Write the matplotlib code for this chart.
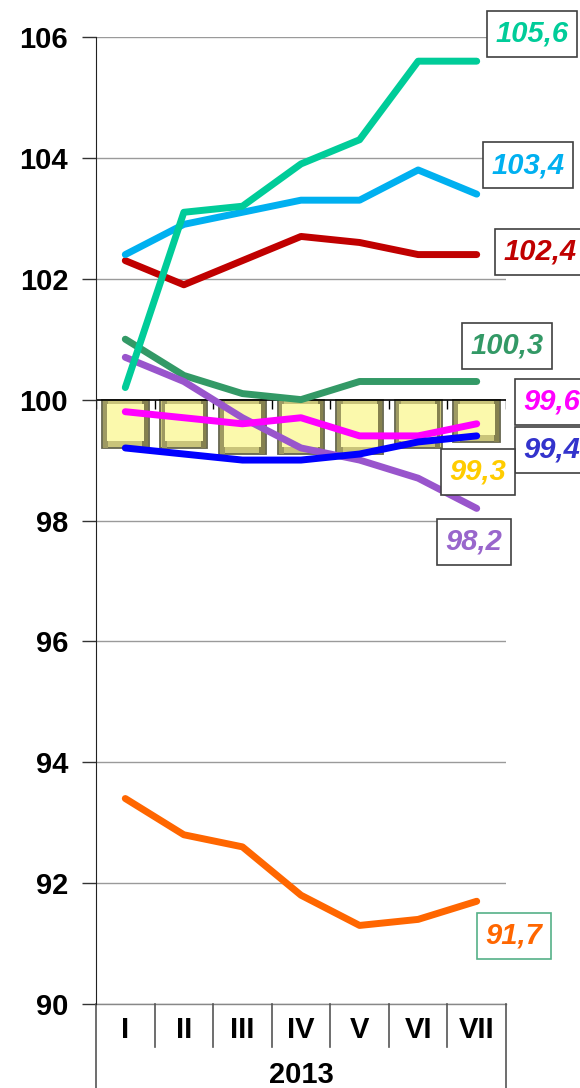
import numpy as np
import matplotlib.pyplot as plt
from matplotlib.transforms import blended_transform_factory

################################## DATA ##################################

months = ['I', 'II', 'III', 'IV', 'V', 'VI', 'VII']
year = '2013'

bar_vals = [99.2, 99.2, 99.1, 99.1, 99.1, 99.2, 99.3]

teal = [100.2, 103.1, 103.2, 103.9, 104.3, 105.6, 105.6]
light_blue = [102.4, 102.9, 103.1, 103.3, 103.3, 103.8, 103.4]
dark_red = [102.3, 101.9, 102.3, 102.7, 102.6, 102.4, 102.4]
sea_green = [101.0, 100.4, 100.1, 100.0, 100.3, 100.3, 100.3]
purple = [100.7, 100.3, 99.7, 99.2, 99.0, 98.7, 98.2]
magenta = [99.8, 99.7, 99.6, 99.7, 99.4, 99.4, 99.6]
blue = [99.2, 99.1, 99.0, 99.0, 99.1, 99.3, 99.4]
orange = [93.4, 92.8, 92.6, 91.8, 91.3, 91.4, 91.7]

y_ticks = [90, 92, 94, 96, 98, 100, 102, 104, 106]

################################## SETUP ##################################

plt.rcParams['font.family'] = ['Liberation Sans', 'DejaVu Sans']
FS = 21

W, H = 580, 1088
fig = plt.figure(figsize=(W / 100, H / 100), dpi=100)

# axes box in pixels: x 96..506, y 37..1004
ax_l, ax_r, ax_t, ax_b = 96, 506, 37, 1004
ax = fig.add_axes([ax_l / W, 1 - ax_b / H, (ax_r - ax_l) / W, (ax_b - ax_t) / H])

x = np.arange(len(months))
ax.set_xlim(-0.5, len(months) - 0.5)
ax.set_ylim(90, 106)

# px -> data helpers (for the label boxes outside the plot)
def px2x(px):
    return (px - ax_l) / (ax_r - ax_l) * len(months) - 0.5

def px2y(py):
    return 106 - (py - ax_t) / (ax_b - ax_t) * 16

################################## BARS ##################################

# bevelled yellow bars hanging down from 100
vals = np.array(bar_vals)
ax.bar(x, vals - 100, bottom=100, width=0.8, color='#c9c47a',
       edgecolor='#66664f', linewidth=1.3, zorder=2)
ax.bar(x - 0.335, vals - 100, bottom=100, width=0.09, color='#9e9a62',
       edgecolor='none', zorder=2.05)
ax.bar(x + 0.335, vals - 100, bottom=100, width=0.09, color='#85814f',
       edgecolor='none', zorder=2.05)
ax.bar(x, vals - 100 + 0.2, bottom=99.92, width=0.64, color='#fbf9ac',
       edgecolor='none', zorder=2.1)

################################## LINES ##################################

series = [
    (orange, '#FF6600'),
    (sea_green, '#339966'),
    (dark_red, '#C00000'),
    (light_blue, '#00B0F0'),
    (purple, '#9955CC'),
    (magenta, '#FF00FF'),
    (blue, '#0000FF'),
    (teal, '#00CC99'),
]
for vals_s, col in series:
    ax.plot(x, vals_s, color=col, lw=5, solid_capstyle='round',
            solid_joinstyle='round', zorder=3)

################################## LABELS ##################################

labels = [
    ('105,6', '#00CC99', '#404040', 532, 42),
    ('103,4', '#00B0F0', '#404040', 528, 173),
    ('102,4', '#C00000', '#404040', 540, 260),
    ('100,3', '#339966', '#404040', 507, 354),
    ('99,6', '#FF00FF', '#404040', 552, 410),
    ('99,4', '#3333CC', '#404040', 552, 458),
    ('99,3', '#FFCC00', '#404040', 478, 480),
    ('98,2', '#9966CC', '#404040', 474, 550),
    ('91,7', '#FF6600', '#55B088', 514, 944),
]
for txt, tcol, ecol, px, py in labels:
    ax.text(px2x(px), px2y(py), txt, color=tcol, fontsize=FS,
            fontweight='bold', fontstyle='italic', ha='center', va='baseline',
            clip_on=False, zorder=5,
            bbox=dict(boxstyle='square,pad=0.3', fc='white', ec=ecol, lw=1.2))

################################## AXES ##################################

ax.set_yticks(y_ticks)
ax.set_yticklabels([str(t) for t in y_ticks], fontsize=FS, fontweight='bold')
ax.tick_params(axis='y', direction='out', length=10, width=1, pad=10,
               color='#333333')
ax.set_xticks([])

for t in y_ticks:
    if t == 100:
        continue
    ax.axhline(t, color='#9a9a9a', lw=1, zorder=1)
ax.axhline(100, color='black', lw=1.2, zorder=2.5)
# small category ticks on the 100 line
ax.vlines(np.arange(len(months) + 1) - 0.5, 99.85, 100, color='black',
          lw=1, zorder=2.5)

for s in ['top', 'right', 'bottom']:
    ax.spines[s].set_visible(False)
ax.spines['left'].set_color('#222222')

# multi-level category axis below the plot
tr = blended_transform_factory(ax.transData, ax.transAxes)
ph = ax_b - ax_t
ax.plot([-0.5, 6.5], [0, 0], transform=tr, color='#888888', lw=1,
        clip_on=False)
for b in np.arange(len(months) + 1) - 0.5:
    if b in (-0.5, 6.5):
        bot = -(H - ax_b) / ph
    else:
        bot = -43 / ph
    ax.plot([b, b], [0, bot], transform=tr, color='#555555', lw=1.2,
            clip_on=False)
for i, m in enumerate(months):
    ax.text(i, -26 / ph, m, transform=tr, ha='center', va='center',
            fontsize=FS, fontweight='bold', clip_on=False)
ax.text(3, -71 / ph, year, transform=tr, ha='center', va='center',
        fontsize=FS, fontweight='bold', clip_on=False)

plt.savefig('out.png', dpi=100)
